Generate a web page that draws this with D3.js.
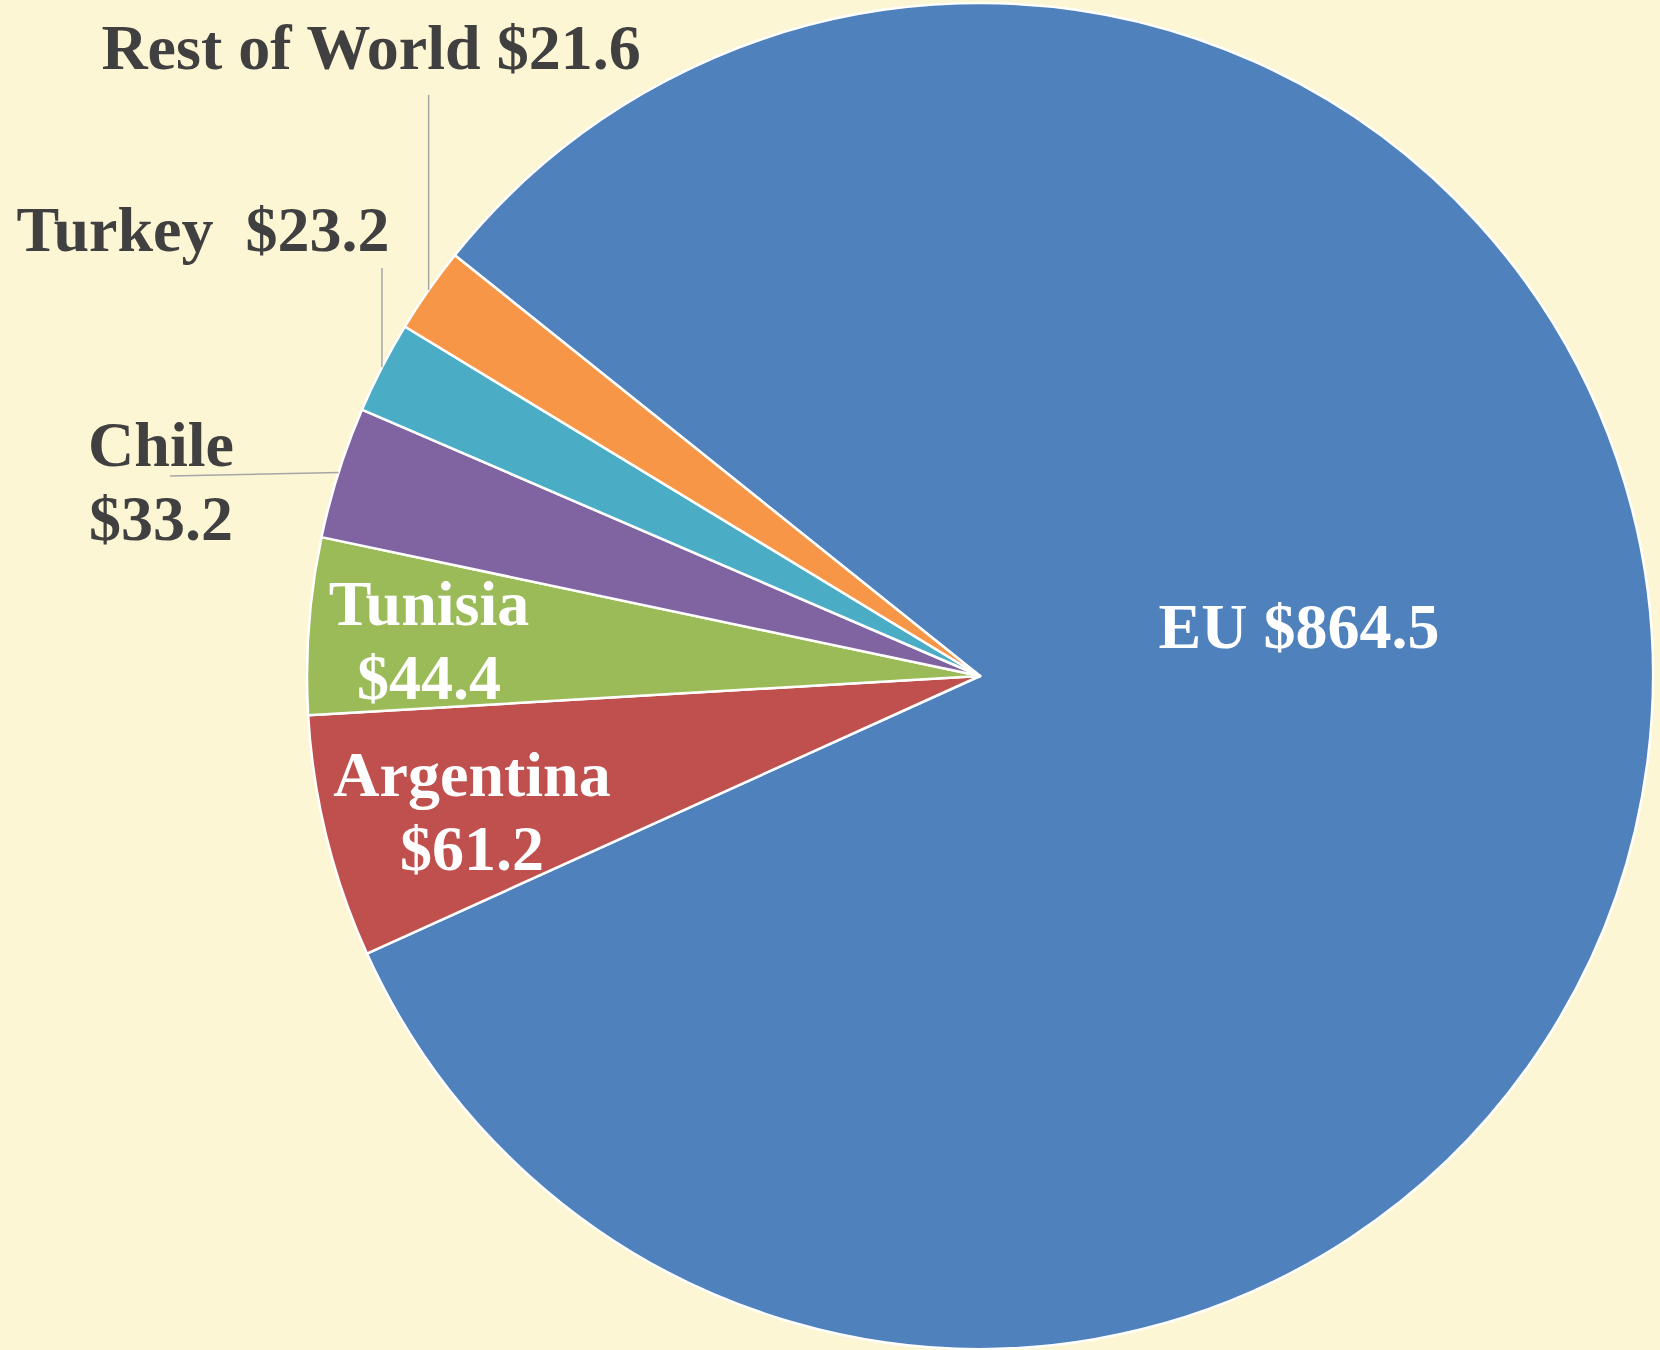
<!DOCTYPE html>
<html>
<head>
<meta charset="utf-8">
<script src="https://cdn.jsdelivr.net/npm/d3@7"></script>
<style>
    html, body { margin: 0; padding: 0; background: #fcf6d4; }
    svg { display: block; }
    text { font-family: "Liberation Serif", "Times New Roman", serif; font-weight: bold; white-space: pre; }
</style>
</head>
<body>
<script>
const width = 1660;
const height = 1350;
const center = { x: 980, y: 676 };
const radius = 673;

// export values, $ millions
const countries = ["EU", "Argentina", "Tunisia", "Chile", "Turkey", "Rest of World"];
const values = [864.5, 61.2, 44.4, 33.2, 23.2, 21.6];
const labelLines = [
    ["EU $864.5"],
    ["Argentina", "$61.2"],
    ["Tunisia", "$44.4"],
    ["Chile", "$33.2"],
    ["Turkey  $23.2"],
    ["Rest of World $21.6"]
];
const myColor = ["#4f81bd", "#c0504d", "#9bbb59", "#8064a2", "#4bacc6", "#f79646"];

// label placement (relative to page), inside labels white, outside dark with leader
const labelPos = {
    "EU": { x: 1299, y: 648, fill: "#fff" },
    "Argentina": { x: 472, y: 796, fill: "#fff" },
    "Tunisia": { x: 429, y: 625, fill: "#fff" },
    "Chile": { x: 161, y: 466, fill: "#404040", leader: { x: 170, y: 476 } },
    "Turkey": { x: 203, y: 251, fill: "#404040", leader: { y: 268 } },
    "Rest of World": { x: 371, y: 69, fill: "#404040", leader: { y: 95 } }
};
const fontSize = 64;
const lineHeight = 74;

const data = countries.map((c, i) => ({ name: c, value: values[i], lines: labelLines[i] }));

const startAngle = -51.3 * Math.PI / 180;
const pie = d3.pie()
    .value(d => d.value)
    .sort(null)
    .startAngle(startAngle)
    .endAngle(startAngle + 2 * Math.PI);

const arc = d3.arc()
    .innerRadius(0)
    .outerRadius(radius);

const colorScale = d3.scaleOrdinal()
    .domain(countries)
    .range(myColor);

const svg = d3.select("body")
    .append("svg")
    .attr("width", width)
    .attr("height", height);

svg.append("rect")
    .attr("width", width)
    .attr("height", height)
    .attr("fill", "#fcf6d4");

const arcs = pie(data);

const chart = svg.append("g")
    .attr("transform", `translate(${center.x},${center.y})`);

chart.selectAll("path")
    .data(arcs)
    .enter()
    .append("path")
    .attr("d", arc)
    .attr("fill", d => colorScale(d.data.name))
    .attr("stroke", "#fff")
    .attr("stroke-width", 2.5)
    .attr("stroke-linejoin", "round");

// leader lines from the slice edge to the label
arcs.filter(d => labelPos[d.data.name].leader).forEach(d => {
    const mid = (d.startAngle + d.endAngle) / 2;
    const px = center.x + radius * Math.sin(mid);
    const py = center.y - radius * Math.cos(mid);
    const l = labelPos[d.data.name].leader;
    svg.append("line")
        .attr("x1", px)
        .attr("y1", py)
        .attr("x2", l.x !== undefined ? l.x : px)
        .attr("y2", l.y)
        .attr("stroke", "#a6a6a6")
        .attr("stroke-width", 1.5);
});

const labels = svg.selectAll("text.label")
    .data(data)
    .enter()
    .append("text")
    .attr("class", "label")
    .attr("text-anchor", "middle")
    .attr("font-size", fontSize)
    .attr("fill", d => labelPos[d.name].fill);

labels.selectAll("tspan")
    .data(d => d.lines.map((t, i) => ({ t, i, p: labelPos[d.name] })))
    .enter()
    .append("tspan")
    .attr("x", d => d.p.x)
    .attr("y", d => d.p.y + d.i * lineHeight)
    .text(d => d.t);
</script>
</body>
</html>
